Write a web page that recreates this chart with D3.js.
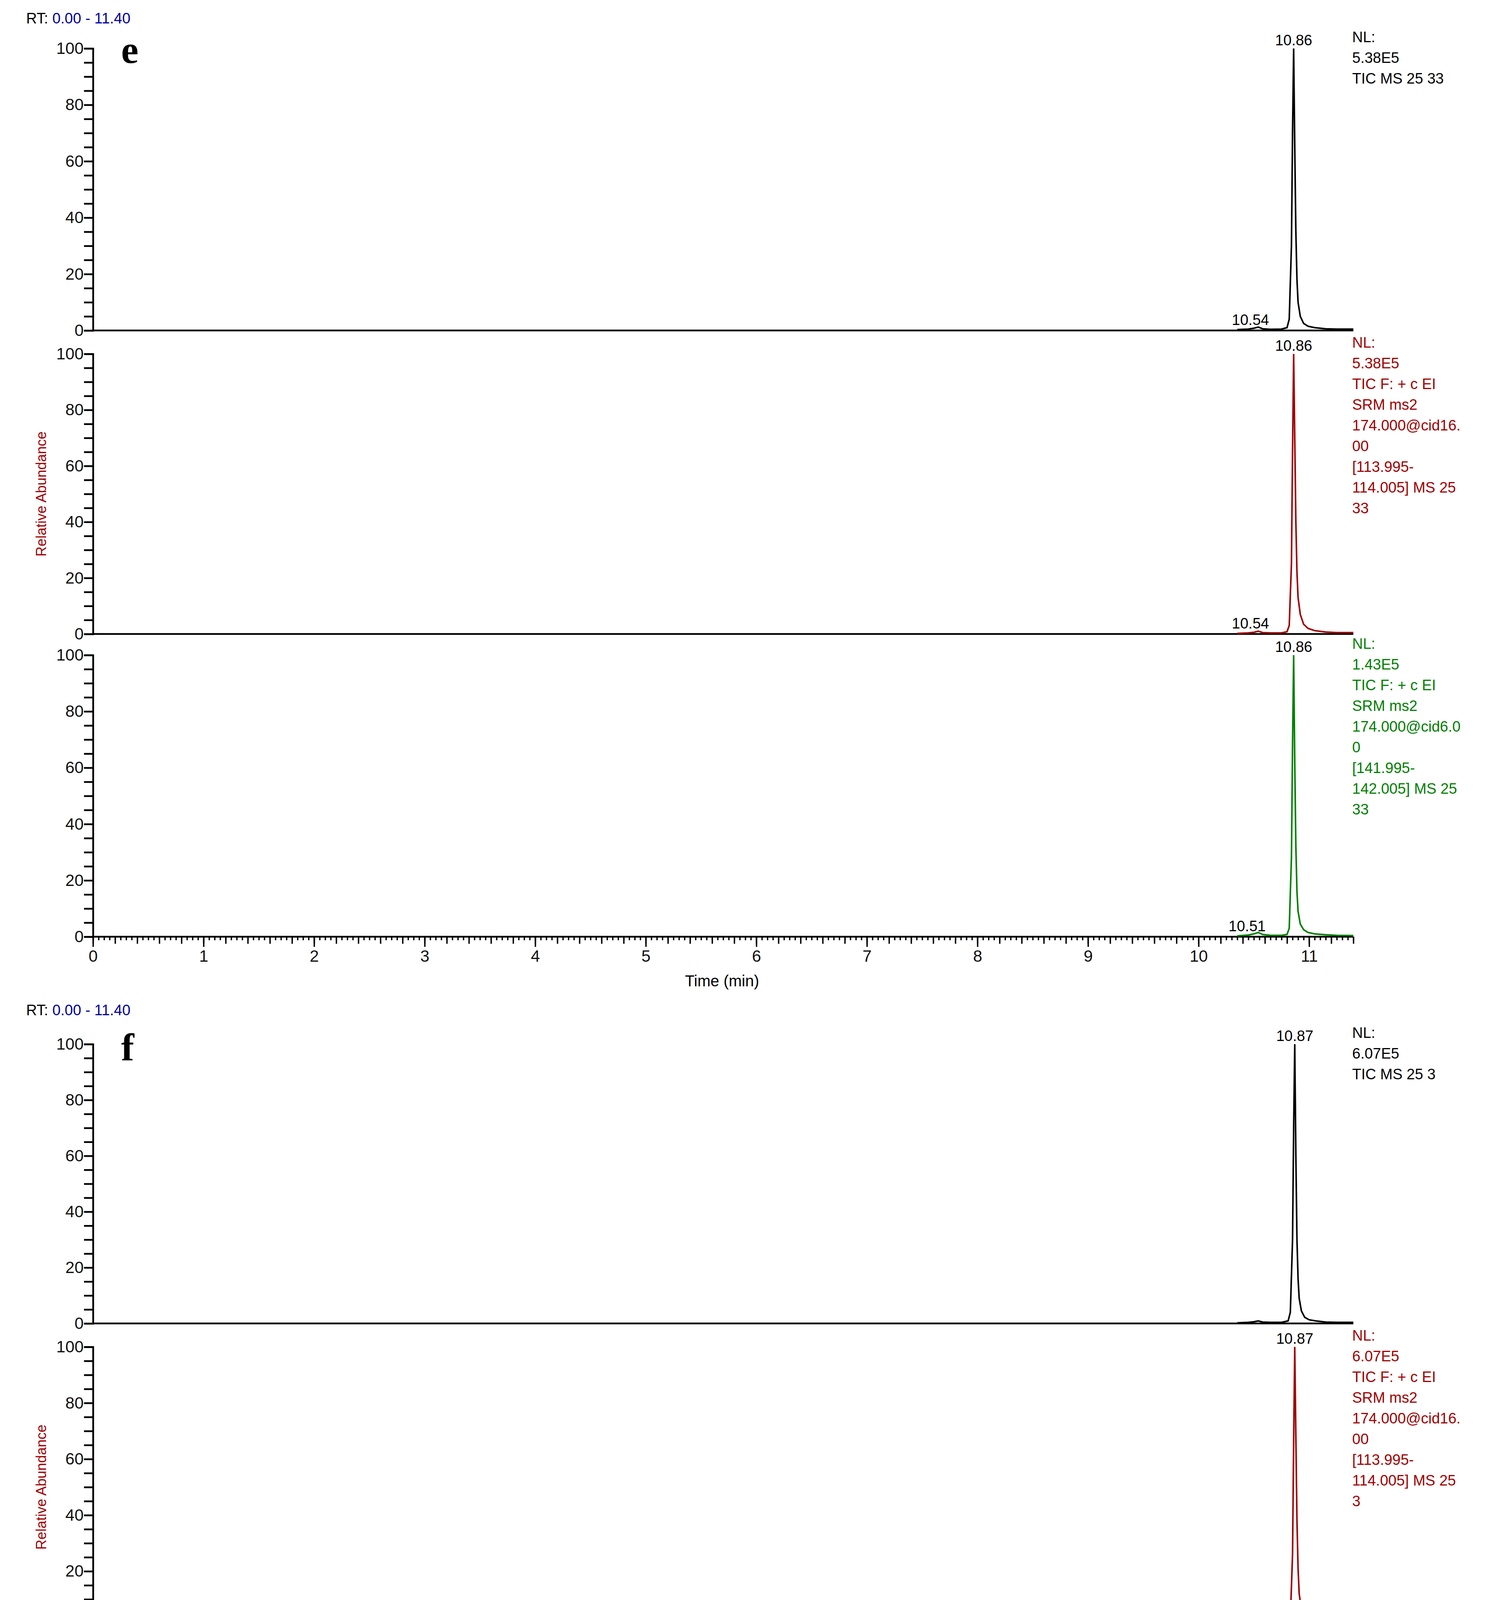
<!DOCTYPE html>
<html><head><meta charset="utf-8">
<script src="https://cdn.jsdelivr.net/npm/d3@7"></script>
<style>body{margin:0;background:#fff}svg{display:block}</style>
</head><body>
<script>
// time points of the traced region (min)
var times = [10.35, 10.45, 10.50, 10.54, 10.58, 10.65, 10.75, 10.80, 10.82, 10.84, 10.85, 10.86, 10.87, 10.88, 10.89, 10.90, 10.92, 10.95, 10.99, 11.05, 11.15, 11.25, 11.40];
var timesF = [10.35, 10.45, 10.50, 10.54, 10.58, 10.65, 10.75, 10.81, 10.83, 10.85, 10.86, 10.87, 10.88, 10.89, 10.90, 10.91, 10.93, 10.96, 11.00, 11.06, 11.15, 11.25, 11.40];

// relative abundance per trace
var eTic   = [0.3, 0.5, 0.8, 1.2, 0.6, 0.4, 0.5, 1.0, 4, 30, 70, 100, 65, 35, 18, 10, 5, 2.5, 1.5, 1.0, 0.6, 0.5, 0.5];
var eQ114  = [0.2, 0.4, 0.6, 1.0, 0.5, 0.4, 0.4, 0.8, 3, 25, 65, 100, 70, 40, 22, 13, 7, 3.5, 2, 1.2, 0.7, 0.5, 0.5];
var eQ142  = [0.3, 0.6, 1.0, 1.5, 0.8, 0.5, 0.5, 0.8, 3, 28, 68, 100, 62, 32, 16, 9, 4.5, 2.5, 1.5, 1.0, 0.7, 0.5, 0.4];
var fTic   = [0.2, 0.4, 0.6, 0.9, 0.5, 0.4, 0.4, 0.9, 4, 30, 70, 100, 60, 30, 16, 9, 4.5, 2.2, 1.3, 0.9, 0.5, 0.4, 0.4];
var fQ114  = [0.2, 0.3, 0.5, 0.8, 0.4, 0.3, 0.4, 0.8, 3, 26, 66, 100, 68, 38, 21, 12, 6.5, 3.2, 1.8, 1.1, 0.6, 0.5, 0.4];
var fQ142  = [0.3, 0.7, 1.2, 1.8, 0.9, 0.5, 0.5, 0.8, 3, 27, 67, 100, 60, 30, 15, 8.5, 4.2, 2.3, 1.4, 1.0, 0.6, 0.5, 0.4];

var peakLabels = ["10.86", "10.86", "10.86", "10.87", "10.87", "10.87"];
var peakTimes  = [10.86, 10.86, 10.86, 10.87, 10.87, 10.87];
var minorLabels = ["10.54", "10.54", "10.51", "", "", "10.54"];
var minorTimes  = [10.54, 10.54, 10.51, 10.54, 10.54, 10.54];
var traceColors = ["#000000", "#a00000", "#008000", "#000000", "#a00000", "#008000"];

var notes = [
  ["NL:", "5.38E5", "TIC  MS 25 33"],
  ["NL:", "5.38E5", "TIC F: + c EI", "SRM ms2", "174.000@cid16.", "00", "[113.995-", "114.005]  MS 25", "33"],
  ["NL:", "1.43E5", "TIC F: + c EI", "SRM ms2", "174.000@cid6.0", "0", "[141.995-", "142.005]  MS 25", "33"],
  ["NL:", "6.07E5", "TIC  MS 25 3"],
  ["NL:", "6.07E5", "TIC F: + c EI", "SRM ms2", "174.000@cid16.", "00", "[113.995-", "114.005]  MS 25", "3"],
  ["NL:", "1.35E5", "TIC F: + c EI", "SRM ms2", "174.000@cid6.0", "0", "[141.995-", "142.005]  MS 25", "3"]
];
var series = [[times, eTic], [times, eQ114], [times, eQ142], [timesF, fTic], [timesF, fQ114], [timesF, fQ142]];
var xTicks = d3.range(0, 12);

var W = 3824, H = 5252;
var font = "'Liberation Sans Narrow', 'Liberation Sans', Arial, sans-serif";
var svg = d3.select("body").append("svg").attr("width", W).attr("height", H);

var x = d3.scaleLinear().domain([0, 11.4]).range([238, 3464]);

// panel y ranges [top(100), bottom(0)]
var panels = [[124, 846], [906, 1623], [1677, 2398], [2673, 3388], [3448, 4166], [4223, 4944]];

panels.forEach(function(p, i) {
  var y = d3.scaleLinear().domain([0, 100]).range([p[1], p[0]]);
  var g = svg.append("g");

  // y axis
  var ya = g.append("g").attr("transform", "translate(" + x(0) + ",0)")
    .call(d3.axisLeft(y).tickValues(d3.range(0, 101, 5)).tickSize(23)
      .tickFormat(function(d) { return d % 20 === 0 ? d : ""; }));
  ya.select(".domain").attr("stroke-width", 4.5);
  ya.selectAll(".tick line").attr("stroke-width", 4.5);
  ya.selectAll("text").attr("font-family", font).attr("font-size", 42).attr("dx", 2).attr("fill", "#111");

  // baseline
  g.append("line").attr("x1", x(0)).attr("x2", x(11.4)).attr("y1", y(0)).attr("y2", y(0))
    .attr("stroke", "#000").attr("stroke-width", 4.5);

  // trace
  var s = series[i];
  var pts = s[0].map(function(t, k) { return [t, s[1][k]]; });
  g.append("path").datum(pts)
    .attr("fill", "none").attr("stroke", traceColors[i]).attr("stroke-width", 4)
    .attr("d", d3.line().x(function(d) { return x(d[0]); }).y(function(d) { return y(d[1]); }));

  // peak labels
  g.append("text").attr("x", x(peakTimes[i])).attr("y", y(100) - 8)
    .attr("text-anchor", "middle").attr("font-family", font).attr("font-size", 38).text(peakLabels[i]);
  if (minorLabels[i])
    g.append("text").attr("x", x(minorTimes[i]) - 20).attr("y", y(0) - 14)
      .attr("text-anchor", "middle").attr("font-family", font).attr("font-size", 38).text(minorLabels[i]);

  // annotation
  var tx = g.append("text").attr("font-family", font).attr("font-size", 38).attr("fill", traceColors[i]);
  notes[i].forEach(function(line, k) {
    tx.append("tspan").attr("x", 3461).attr("y", p[0] - 16 + k * 53).text(line);
  });

  // x axis on bottom panels
  if (i === 2 || i === 5) {
    var xa = g.append("g").attr("transform", "translate(0," + y(0) + ")");
    xa.append("g").call(d3.axisBottom(x).tickValues(d3.range(0, 11.41, 0.05)).tickSize(9).tickFormat(""))
      .call(function(a) { a.select(".domain").remove(); a.selectAll("line").attr("stroke-width", 3.5); });
    xa.append("g").call(d3.axisBottom(x).tickValues(d3.range(0, 11.41, 0.2)).tickSize(18).tickFormat(""))
      .call(function(a) { a.select(".domain").remove(); a.selectAll("line").attr("stroke-width", 3.5); });
    xa.append("g").call(d3.axisBottom(x).tickValues(xTicks).tickSize(26).tickPadding(8).tickFormat(d3.format("d")))
      .call(function(a) {
        a.select(".domain").remove();
        a.selectAll("line").attr("stroke-width", 3.5);
        a.selectAll("text").attr("font-family", font).attr("font-size", 42).attr("fill", "#111");
      });
    g.append("text").attr("x", x(5.69)).attr("y", y(0) + 127).attr("text-anchor", "middle")
      .attr("font-family", font).attr("font-size", 40).text("Time (min)");
  }

  // Relative Abundance label on middle panels
  if (i === 1 || i === 4) {
    g.append("text").attr("transform", "translate(118," + (p[0] + p[1]) / 2 + ") rotate(-90)")
      .attr("text-anchor", "middle").attr("font-family", font).attr("font-size", 36)
      .attr("fill", "#a00000").text("Relative Abundance");
  }
});

// RT range headers and panel letters
[[60, "e", 161], [2599, "f", 2715]].forEach(function(h) {
  var t = svg.append("text").attr("x", 67).attr("y", h[0]).attr("font-family", font).attr("font-size", 38);
  t.append("tspan").text("RT: ");
  t.append("tspan").attr("fill", "#0000a0").text("0.00 - 11.40");
  svg.append("text").attr("x", 310).attr("y", h[2]).attr("font-family", "'Liberation Serif', 'DejaVu Serif', serif")
    .attr("font-weight", "bold").attr("font-size", 100).text(h[1]);
});

svg.append("text").attr("x", 1929).attr("y", 5225).attr("text-anchor", "middle")
  .attr("font-family", "'Liberation Serif', serif").attr("font-size", 66)
  .html("(<tspan font-weight='bold'>B</tspan>)");
</script>
</body></html>
